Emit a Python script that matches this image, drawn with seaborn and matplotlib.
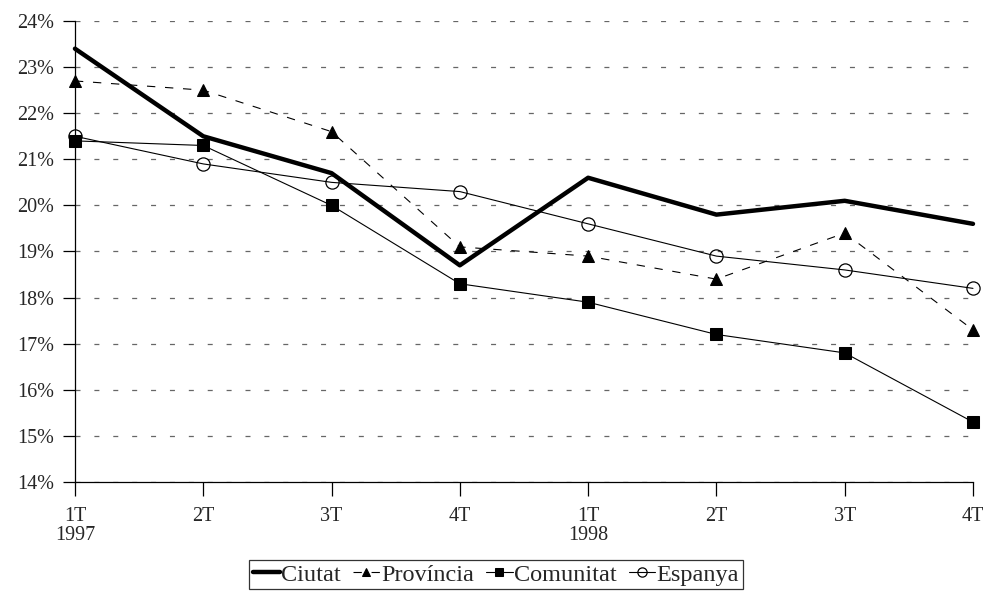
import numpy as np
import pandas as pd
import matplotlib
matplotlib.use("Agg")
import matplotlib.pyplot as plt
import seaborn as sns

sns.set_style("ticks")
plt.rcParams['font.family'] = ['Liberation Serif', 'DejaVu Serif']
plt.rcParams['lines.scale_dashes'] = False

# Data
quarters = ["1T", "2T", "3T", "4T", "1T", "2T", "3T", "4T"]
years = ["1997", "", "", "", "1998", "", "", ""]
ciutat = [23.4, 21.5, 20.7, 18.7, 20.6, 19.8, 20.1, 19.6]
provincia = [22.7, 22.5, 21.6, 19.1, 18.9, 18.4, 19.4, 17.3]
comunitat = [21.4, 21.3, 20.0, 18.3, 17.9, 17.2, 16.8, 15.3]
espanya = [21.5, 20.9, 20.5, 20.3, 19.6, 18.9, 18.6, 18.2]

pos = np.arange(len(quarters))
df = pd.DataFrame({"pos": pos, "Ciutat": ciutat, "Província": provincia,
                   "Comunitat": comunitat, "Espanya": espanya})

fig = plt.figure(figsize=(9.85, 5.94), dpi=100)
ax = fig.add_axes([0.0761, 0.1886, 0.9117, 0.776])

sns.lineplot(data=df, x="pos", y="Ciutat", ax=ax, color="black", lw=3.2,
             label="Ciutat", clip_on=False)
sns.lineplot(data=df, x="pos", y="Província", ax=ax, color="black", lw=0.8,
             linestyle=(0, (6, 7)), marker="^", markersize=8.5,
             markeredgecolor="black", markerfacecolor="black", label="Província",
             clip_on=False)
sns.lineplot(data=df, x="pos", y="Comunitat", ax=ax, color="black", lw=0.8,
             marker="s", markersize=8.5, markeredgecolor="black",
             markerfacecolor="black", label="Comunitat", clip_on=False)
sns.lineplot(data=df, x="pos", y="Espanya", ax=ax, color="black", lw=0.8,
             marker="o", markersize=9.5, markeredgecolor="black",
             markerfacecolor="none", markeredgewidth=0.9, label="Espanya",
             clip_on=False)

ax.set_xlim(0, 7)
ax.set_ylim(14, 24)
ax.set_yticks(np.arange(14, 25, 1))
ax.set_yticklabels([f"{v}%" for v in range(14, 25)], fontsize=14.5)
ax.set_xticks(pos)
ax.set_xticklabels([q + ("\n" + y if y else "") for q, y in zip(quarters, years)],
                   fontsize=14.5, va="top", linespacing=1.0)
ax.set_xlabel("")
ax.set_ylabel("")

ax.yaxis.grid(True, color="#666666", linestyle=(0, (3.6, 10)), lw=0.9)
ax.xaxis.grid(False)
ax.set_axisbelow(True)
sns.despine(ax=ax, top=True, right=True)
for s in ["left", "bottom"]:
    ax.spines[s].set_color("black")
    ax.spines[s].set_linewidth(0.9)
ax.tick_params(axis="y", left=True, direction="out", length=9, width=0.9,
               color="black", pad=6)
ax.tick_params(axis="x", bottom=True, direction="out", length=10, width=0.9,
               color="black", pad=8)

ax.get_legend().remove()
handles, labels = ax.get_legend_handles_labels()
leg = fig.legend(handles, labels, loc="upper center", bbox_to_anchor=(0.5036, 0.0572),
                 ncol=4, frameon=True, fancybox=False, edgecolor="black",
                 fontsize=17.5, handlelength=1.1, handletextpad=0.05, markerscale=0.7,
                 columnspacing=0.5, borderpad=0.15, borderaxespad=0)
leg.get_frame().set_linewidth(0.9)

fig.savefig("out.png", dpi=100)
